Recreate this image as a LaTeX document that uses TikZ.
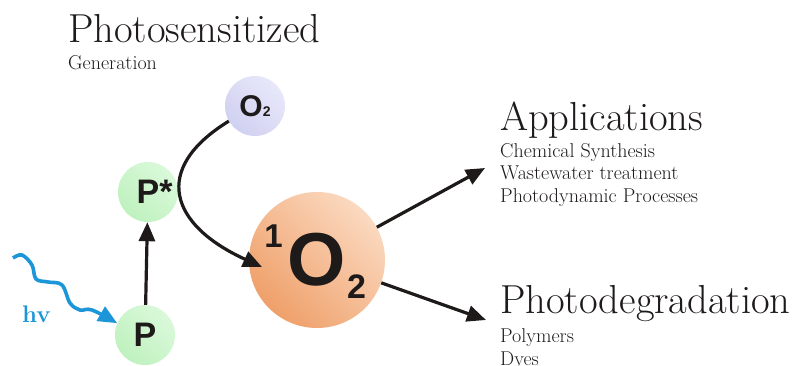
\documentclass[tikz,border=0pt]{standalone}
\usepackage{fontspec}
\newfontfamily\arialfont{Liberation Sans}
\usetikzlibrary{arrows.meta}
\definecolor{ink}{HTML}{1E1A1A}
\definecolor{photon}{HTML}{1C96D9}
\definecolor{greenhi}{HTML}{DAF9DA}
\definecolor{greenlo}{HTML}{BFF1BF}
\definecolor{lavhi}{HTML}{E8E8FA}
\definecolor{lavlo}{HTML}{D0D0F1}
\definecolor{orangehi}{HTML}{FBD9C0}
\definecolor{orangelo}{HTML}{EFA06A}
\begin{document}
\begin{tikzpicture}[x=1pt, y=1pt,
    mol/.style={circle, inner sep=0pt, minimum size=60pt, text=ink,
        font=\fontsize{34}{34}\arialfont\bfseries},
    green mol/.style={mol, top color=greenhi, bottom color=greenlo, shading angle=-45},
    lav mol/.style={mol, top color=lavhi, bottom color=lavlo, shading angle=-45,
        font=\fontsize{30}{30}\arialfont\bfseries},
    orange mol/.style={mol, top color=orangehi, bottom color=orangelo, shading angle=-45,
        minimum size=136pt, font=\fontsize{75}{75}\arialfont\bfseries},
    arr/.style={draw=ink, line width=3.2pt, -{Triangle[length=19pt,width=16pt]}},
    photon arr/.style={draw=photon, line width=3.6pt, -{Triangle[length=19pt,width=16pt]}},
    title/.style={anchor=base west, inner sep=0pt, text=ink, font=\fontsize{40.5}{44}\selectfont},
    item/.style={anchor=base west, inner sep=0pt, text=ink, font=\fontsize{20}{24}\selectfont}]
\useasboundingbox (0,0) rectangle (792,365);

\node[lav mol] (o2) at (255,259) {O{\fontsize{14}{14}\selectfont 2}};
\node[green mol] (pstar) at (148,173) {P\rlap{*}};
\node[green mol] (p) at (145,30) {P};
\node[orange mol] (s) at (317,105)
    {\llap{\smash{\raisebox{38pt}{\fontsize{33}{33}\selectfont 1}}\hspace{5pt}}O\rlap{\hspace{1pt}\smash{\raisebox{-13pt}{\fontsize{34}{34}\selectfont 2}}}};

\coordinate (light) at (13,107);
\coordinate (hit) at (262,98);
\coordinate (appl) at (485,197);
\coordinate (degr) at (486,45);

\draw[photon arr] plot[smooth, tension=0.6] coordinates
    {(light) (22,110) (32,100) (36,86) (48,83) (62,80) (70,62) (80,55) (92,55) (p.157)};
\draw[arr] (p) -- (pstar);
\draw[arr] (o2.210) .. controls +(-78,-48) and +(-92,42) .. (hit);
\draw[arr] (s) -- (appl);
\draw[arr] (s) -- (degr);

\node[anchor=base west, inner sep=0pt, text=photon, font=\bfseries\fontsize{24}{24}\selectfont] (hv) at (22,43) {hv};

\node[title] (sens) at (68,322) {Photosensitized};
\node[item] (gen) at (68,295) {Generation};
\node[title] (apps) at (500,235) {Applications};
\foreach \i/\t in {0/Chemical Synthesis, 1/Wastewater treatment, 2/Photodynamic Processes}
    \node[item] (app\i) at (500,{208-22.5*\i}) {\t};
\node[title] (deg) at (500,52) {Photodegradation};
\foreach \i/\t in {0/Polymers, 1/Dyes}
    \node[item] (deg\i) at (500,{23-23*\i}) {\t};
\end{tikzpicture}
\end{document}
